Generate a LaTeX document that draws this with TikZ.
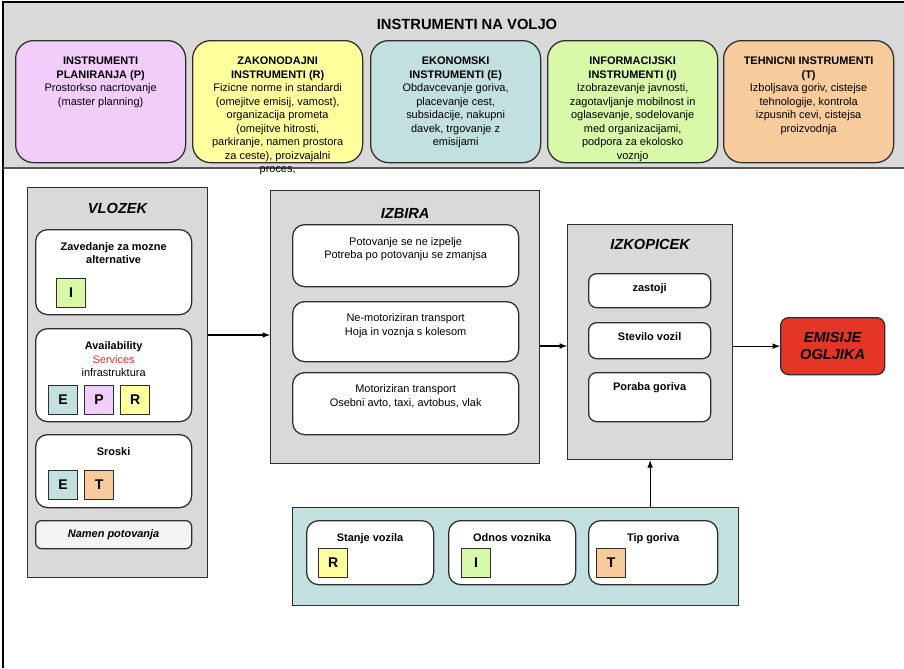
\documentclass[tikz,border=0pt]{standalone}
\usepackage{fontspec}
\setmainfont{Liberation Sans}
\usetikzlibrary{arrows,positioning}

\definecolor{panelgray}{HTML}{D9D9D9}
\definecolor{edge}{HTML}{2E2E2E}
\definecolor{bandline}{HTML}{555555}
\definecolor{pinkI}{HTML}{F3CDFA}
\definecolor{yellowI}{HTML}{FFFF9E}
\definecolor{blueI}{HTML}{C2E0E0}
\definecolor{greenI}{HTML}{D8F9A8}
\definecolor{orangeI}{HTML}{F7CB9B}
\definecolor{redE}{HTML}{E43527}
\definecolor{servred}{HTML}{FF2A2A}
\definecolor{namen}{HTML}{F3F3F3}

\begin{document}
\begin{tikzpicture}[x=0.25mm,y=-0.25mm]
\tikzstyle{every node}=[font=\fontsize{7.8}{9.6}\selectfont]
\tikzstyle{instr}=[anchor=north west, rectangle, rounded corners=4.5mm, draw=edge,
line width=0.9pt, minimum width=42.5mm, minimum height=30.5mm]
\tikzstyle{panel}=[anchor=north west, rectangle, fill=panelgray, draw=edge, line width=0.9pt]
\tikzstyle{item}=[anchor=north west, rectangle, rounded corners=3mm, fill=white,
draw=edge, line width=0.9pt]
\tikzstyle{tag}=[anchor=north west, rectangle, draw=edge, line width=0.9pt,
minimum size=7.25mm, inner sep=0pt, font=\fontsize{10}{12}\selectfont\bfseries]
\tikzstyle{txt}=[anchor=north, inner sep=0pt, align=center]
\tikzstyle{heading}=[anchor=north, inner sep=0pt, font=\fontsize{10.4}{12.5}\selectfont\bfseries\itshape]
\tikzstyle{arrow}=[-latex, thick]

\useasboundingbox (0,0) rectangle (904,668);

% instrumenti na voljo
\fill[panelgray] (3,2) rectangle (910,168);
\draw[line width=1.2pt] (3,668) -- (3,2) -- (910,2);
\draw[line width=1.2pt, bandline] (3,168) -- (910,168);

\node[inner sep=0pt, font=\fontsize{10.5}{12}\selectfont\bfseries] at (467,24) (band) {INSTRUMENTI NA VOLJO};

\node[instr, fill=pinkI] at (15,40) (plan) {};
\node[txt, below=4.2mm of plan.north] (plan-t) {
\textbf{INSTRUMENTI}\\\textbf{PLANIRANJA (P)}\\
Prostorkso nacrtovanje\\(master planning)
};

\node[instr, fill=yellowI] at (192,40) (zakon) {};
\node[txt, below=4.2mm of zakon.north] (zakon-t) {
\textbf{ZAKONODAJNI}\\\textbf{INSTRUMENTI (R)}\\
Fizicne norme in standardi\\(omejitve emisij, vamost),\\organizacija prometa\\
(omejitve hitrosti,\\parkiranje, namen prostora\\za ceste), proizvajalni\\proces,
};

\node[instr, fill=blueI] at (370,40) (ekon) {};
\node[txt, below=4.2mm of ekon.north] (ekon-t) {
\textbf{EKONOMSKI}\\\textbf{INSTRUMENTI (E)}\\
Obdavcevanje goriva,\\placevanje cest,\\subsidacije, nakupni\\davek, trgovanje z\\emisijami
};

\node[instr, fill=greenI] at (547,40) (inform) {};
\node[txt, below=4.2mm of inform.north] (inform-t) {
\textbf{INFORMACIJSKI}\\\textbf{INSTRUMENTI (I)}\\
Izobrazevanje javnosti,\\zagotavljanje mobilnost in\\oglasevanje, sodelovanje\\
med organizacijami,\\podpora za ekolosko\\voznjo
};

\node[instr, fill=orangeI] at (723,40) (tehn) {};
\node[txt, below=4.2mm of tehn.north] (tehn-t) {
\textbf{TEHNICNI INSTRUMENTI}\\\textbf{(T)}\\
Izboljsava goriv, cistejse\\tehnologije, kontrola\\izpusnih cevi, cistejsa\\proizvodnja
};

% vlozek
\node[panel, minimum width=45mm, minimum height=97.5mm] at (27,187) (vlozek) {};
\node[heading, below=4mm of vlozek.north] (vlozek-t) {VLOZEK};

\node[item, minimum width=39mm, minimum height=21.25mm] at (35,229) (zav) {};
\node[txt, below=3.3mm of zav.north] (zav-t) {\textbf{Zavedanje za mozne}\\\textbf{alternative}};
\node[tag, fill=greenI] at (56,278) (zav-i) {I};

\node[item, minimum width=39mm, minimum height=23.25mm] at (35,328) (avail) {};
\node[txt, below=3.4mm of avail.north] (avail-t) {\textbf{Availability}\\\textcolor{servred}{Services}\\infrastruktura};
\node[tag, fill=blueI] at (48,385) (avail-e) {E};
\node[tag, fill=pinkI] at (84,385) (avail-p) {P};
\node[tag, fill=yellowI] at (120,385) (avail-r) {R};

\node[item, minimum width=39mm, minimum height=18.25mm] at (35,434) (sroski) {};
\node[txt, below=3.4mm of sroski.north] (sroski-t) {\textbf{Sroski}};
\node[tag, fill=blueI] at (48,470) (sroski-e) {E};
\node[tag, fill=orangeI] at (84,470) (sroski-t2) {T};

\node[item, rounded corners=1.5mm, fill=namen, minimum width=39mm, minimum height=7mm,
font=\fontsize{7.8}{9.6}\selectfont\bfseries\itshape] at (35,520) (namen) {Namen potovanja};

% izbira
\node[panel, minimum width=67.25mm, minimum height=68.25mm] at (270,190) (izbira) {};
\node[heading, below=4.5mm of izbira.north] (izbira-t) {IZBIRA};

\node[item, minimum width=56.5mm, minimum height=15.5mm] at (292,224) (potov) {};
\node[txt, below=3.3mm of potov.north] (potov-t) {Potovanje se ne izpelje\\Potreba po potovanju se zmanjsa};

\node[item, minimum width=56.5mm, minimum height=15mm] at (292,301) (nemot) {};
\node[txt, below=3.1mm of nemot.north] (nemot-t) {Ne-motoriziran transport\\Hoja in voznja s kolesom};

\node[item, minimum width=56.5mm, minimum height=15.5mm] at (292,372) (motor) {};
\node[txt, below=3.1mm of motor.north] (motor-t) {Motoriziran transport\\Osebni avto, taxi, avtobus, vlak};

% izkopicek
\node[panel, minimum width=41.25mm, minimum height=58.75mm] at (567,224) (izkop) {};
\node[heading, below=3.75mm of izkop.north] (izkop-t) {IZKOPICEK};

\node[item, rounded corners=2mm, minimum width=30.5mm, minimum height=8.5mm] at (588,273) (zastoji) {};
\node[txt, below=2.5mm of zastoji.north] (zastoji-t) {\textbf{zastoji}};

\node[item, rounded corners=2mm, minimum width=30.5mm, minimum height=9mm] at (588,322) (stevilo) {};
\node[txt, below=2.5mm of stevilo.north] (stevilo-t) {\textbf{Stevilo vozil}};

\node[item, rounded corners=2mm, minimum width=30.5mm, minimum height=12.25mm] at (588,372) (poraba) {};
\node[txt, below=2.6mm of poraba.north] (poraba-t) {\textbf{Poraba goriva}};

% emisije
\node[anchor=north west, rectangle, rounded corners=2mm, fill=redE, draw=edge, line width=0.9pt,
minimum width=26mm, minimum height=14.25mm, align=center,
font=\fontsize{10.4}{12}\selectfont\bfseries\itshape] at (780,317) (emisije) {EMISIJE\\OGLJIKA};

% dejavniki vozila
\node[panel, fill=blueI, minimum width=111.5mm, minimum height=24.5mm] at (292,507) (vozilo) {};

\node[item, minimum width=31.75mm, minimum height=16mm] at (306,520) (stanje) {};
\node[txt, below=3.2mm of stanje.north] (stanje-t) {\textbf{Stanje vozila}};
\node[tag, fill=yellowI] at (318,548) (stanje-r) {R};

\node[item, minimum width=31.75mm, minimum height=16mm] at (448,520) (odnos) {};
\node[txt, below=3.2mm of odnos.north] (odnos-t) {\textbf{Odnos voznika}};
\node[tag, fill=greenI] at (461,548) (odnos-i) {I};

\node[item, minimum width=32.25mm, minimum height=16mm] at (588,520) (tip) {};
\node[txt, below=3.2mm of tip.north] (tip-t) {\textbf{Tip goriva}};
\node[tag, fill=orangeI] at (596,548) (tip-t2) {T};

\coordinate (lev1) at (0,335);
\coordinate (lev2) at (0,346);

\draw[arrow] (vlozek.east |- lev1) -- (izbira.west |- lev1);
\draw[arrow] (izbira.east |- lev2) -- (izkop.west |- lev2);
\draw[arrow] (izkop.east |- emisije.west) -- (emisije.west);
\draw[arrow] (vozilo.north -| izkop.south) -- (izkop.south);

\end{tikzpicture}
\end{document}
